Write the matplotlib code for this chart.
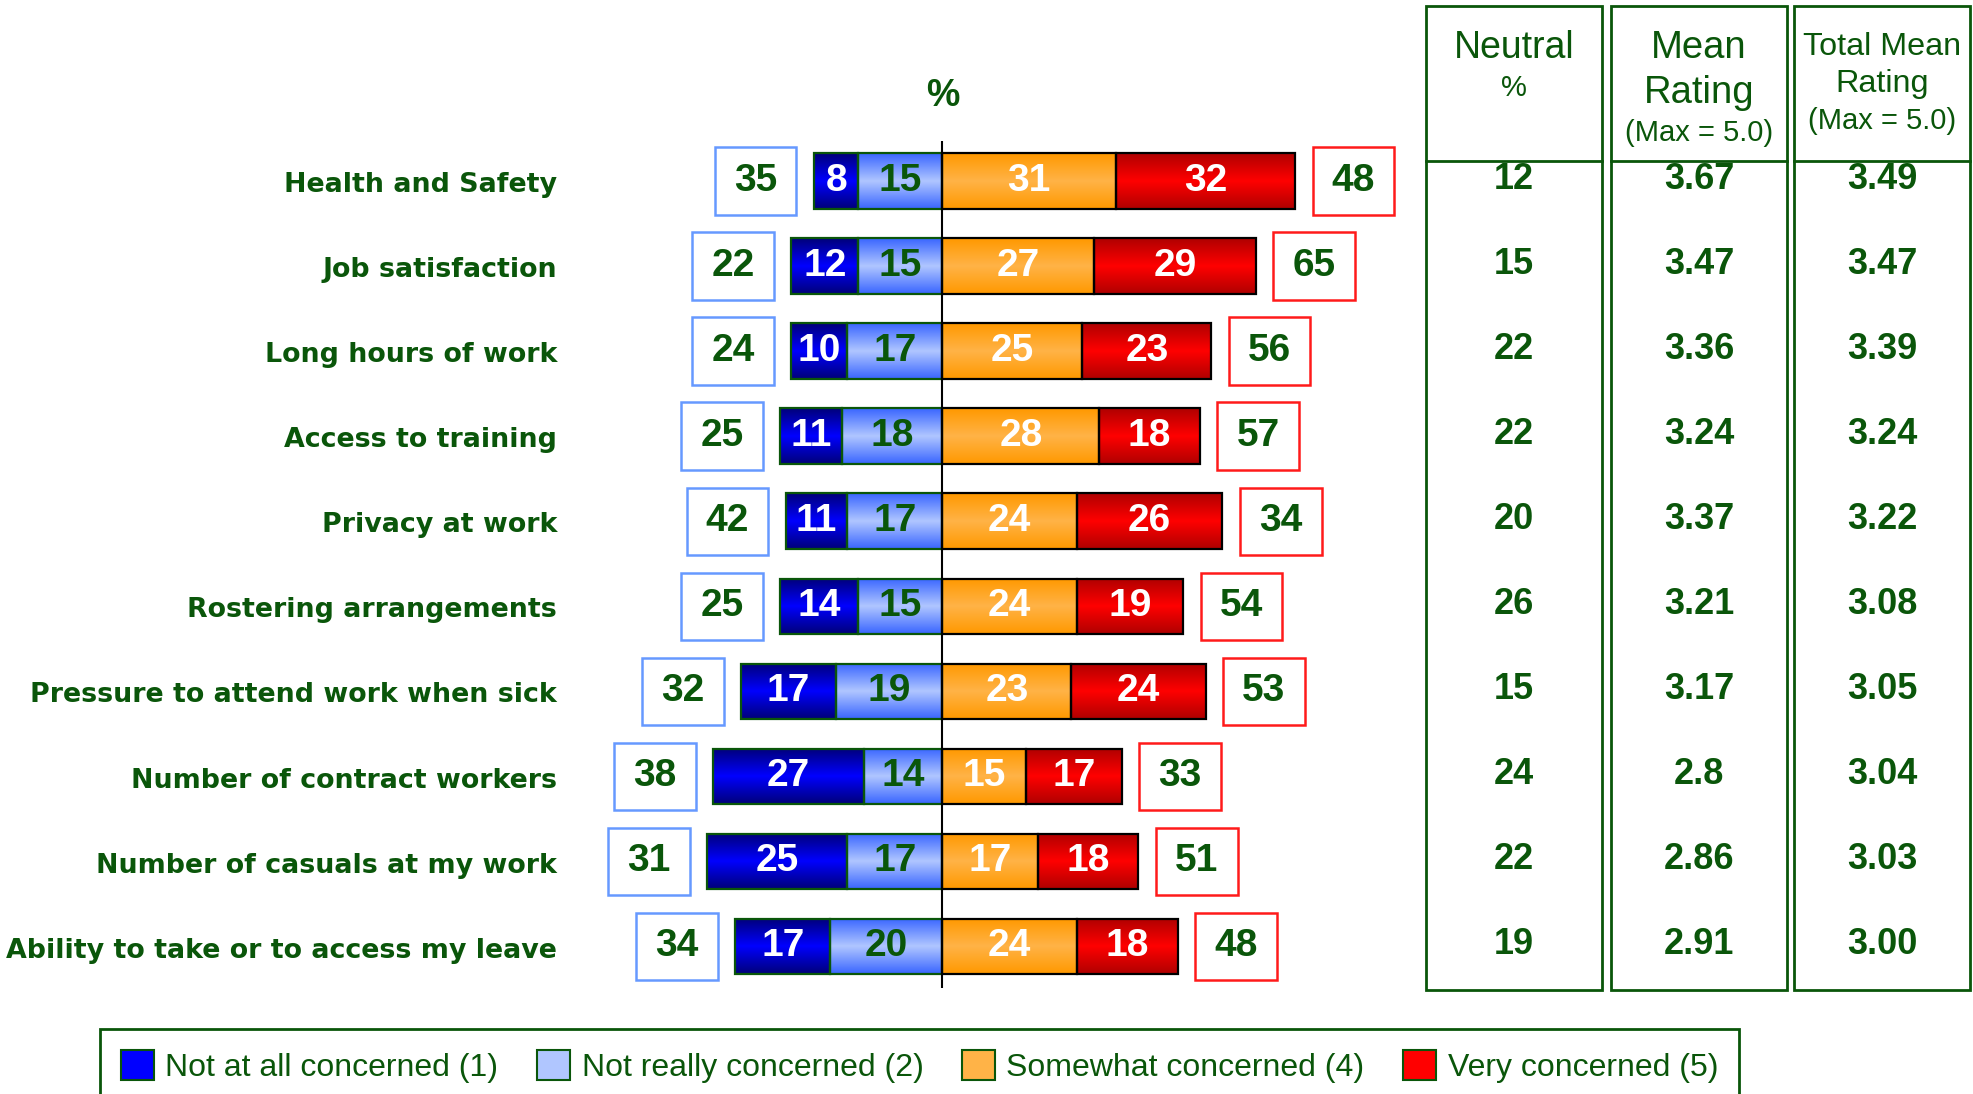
import numpy as np
import matplotlib
matplotlib.use('Agg')
import matplotlib.pyplot as plt
from matplotlib.patches import Rectangle, Patch
from matplotlib import transforms
from matplotlib.colors import to_rgb

categories = ['Health and Safety', 'Job satisfaction', 'Long hours of work',
              'Access to training', 'Privacy at work', 'Rostering arrangements',
              'Pressure to attend work when sick', 'Number of contract workers',
              'Number of casuals at my work', 'Ability to take or to access my leave']
not_at_all = [8, 12, 10, 11, 11, 14, 17, 27, 25, 17]
not_really = [15, 15, 17, 18, 17, 15, 19, 14, 17, 20]
somewhat = [31, 27, 25, 28, 24, 24, 23, 15, 17, 24]
very = [32, 29, 23, 18, 26, 19, 24, 17, 18, 18]
left_box = [35, 22, 24, 25, 42, 25, 32, 38, 31, 34]
right_box = [48, 65, 56, 57, 34, 54, 53, 33, 51, 48]
neutral = ['12', '15', '22', '22', '20', '26', '15', '24', '22', '19']
mean_rating = ['3.67', '3.47', '3.36', '3.24', '3.37', '3.21', '3.17', '2.8', '2.86', '2.91']
total_mean = ['3.49', '3.47', '3.39', '3.24', '3.22', '3.08', '3.05', '3.04', '3.03', '3.00']
legend_labels = ['Not at all concerned (1)', 'Not really concerned (2)',
                 'Somewhat concerned (4)', 'Very concerned (5)']

GREEN = '#0a560a'
# (outer colour, middle colour) of the vertical gradient on each segment
seg_colors = [('#00007a', '#0000ff'), ('#3a66ff', '#b0c6ff'),
              ('#ff9900', '#ffb347'), ('#b00000', '#ff0000')]
seg_text = ['white', GREEN, 'white', 'white']
NARROW = ['Liberation Sans Narrow', 'Liberation Sans']
ARIAL = ['Liberation Sans']

W, H = 1973, 1094
fig = plt.figure(figsize=(W / 100, H / 100), dpi=100)

# bar panel, x in percent, y in rows
ax = fig.add_axes([560 / W, 1 - 988 / H, 840 / W, 847 / H])
XLIM = (-68.3, 81.7)
YLIM = (9.49, -0.47)
ax.set_axis_off()

y = np.arange(len(categories))
a, b = np.array(not_at_all), np.array(not_really)
c, d = np.array(somewhat), np.array(very)
segments = [(-(a + b), a), (-b, b), (np.zeros_like(c), c), (c, d)]
edge_cols = [GREEN, GREEN, 'black', 'black']


def grad_fill(ax, patch, c_out, c_in):
    x0, y0 = patch.get_x(), patch.get_y()
    w, h = patch.get_width(), patch.get_height()
    t = np.abs(np.linspace(-1, 1, 64)) ** 1.0
    img = (1 - t)[:, None] * np.array(to_rgb(c_in)) + t[:, None] * np.array(to_rgb(c_out))
    im = ax.imshow(img[:, None, :], extent=(x0, x0 + w, y0 + h, y0), aspect='auto',
                   interpolation='bilinear', zorder=2)
    im.set_clip_path(patch)


for k, (left, width) in enumerate(segments):
    bars = ax.barh(y, width, left=left, height=0.65, color=seg_colors[k][1], zorder=2)
    for p in bars:
        grad_fill(ax, p, *seg_colors[k])
    ax.barh(y, width, left=left, height=0.65, fill=False, edgecolor=edge_cols[k],
            linewidth=1.6, zorder=3)
    for yi, l, w in zip(y, left, width):
        ax.text(l + w / 2, yi, str(w), ha='center', va='center', color=seg_text[k],
                fontsize=28, fontweight='bold', family=NARROW, zorder=5)

# boxed totals on either side
for yi, lv, rv, lend, rend in zip(y, left_box, right_box, a + b, c + d):
    for cx, val, col in [(-lend - 10.4, lv, '#6699ff'), (rend + 10.4, rv, '#ff1a1a')]:
        ax.add_patch(Rectangle((cx - 7.3, yi - 0.395), 14.6, 0.79, fill=False,
                               edgecolor=col, linewidth=1.8, zorder=3))
        ax.text(cx, yi, str(val), ha='center', va='center', color=GREEN,
                fontsize=28, fontweight='bold', family=NARROW, zorder=5)

ax.axvline(0, color='black', lw=1.5, zorder=4)
ax.text(0, -1.0, '%', ha='center', va='center', color=GREEN, fontsize=27,
        fontweight='bold', family=ARIAL, clip_on=False)
for yi, cat in zip(y, categories):
    ax.text(XLIM[0] - 0.5, yi + 0.05, cat, ha='right', va='center', color=GREEN,
            fontsize=19.4, fontweight='bold', clip_on=False)
ax.set_xlim(*XLIM)
ax.set_ylim(*YLIM)

# table panel on the right, laid out in figure pixels
tab = fig.add_axes([1420 / W, 0, 553 / W, 1])
tab.set_xlim(1420, 1973)
tab.set_ylim(H, 0)
tab.set_axis_off()
cols = [(1426, 176), (1611, 176), (1794, 176)]
for x0, w in cols:
    tab.add_patch(Rectangle((x0, 6), w, 984, fill=False, edgecolor=GREEN, lw=2))
    tab.plot([x0, x0 + w], [161, 161], color=GREEN, lw=2)
centers = [x0 + w / 2 for x0, w in cols]
headers = [[('Neutral', 48, 27), ('%', 88, 21)],
           [('Mean', 48, 27.5), ('Rating', 93, 27.5), ('(Max = 5.0)', 133, 21)],
           [('Total Mean', 47, 23.3), ('Rating', 84, 23.3), ('(Max = 5.0)', 121, 21)]]
for cx, lines in zip(centers, headers):
    for txt, ty, fs in lines:
        tab.text(cx, ty, txt, ha='center', va='center', color=GREEN, fontsize=fs,
                 family=ARIAL)

blend = transforms.blended_transform_factory(tab.transData, ax.transData)
for cx, vals in zip(centers, [neutral, mean_rating, total_mean]):
    for yi, v in zip(y, vals):
        fig.text(cx, yi - 0.02, v, transform=blend, ha='center', va='center',
                 color=GREEN, fontsize=26, fontweight='bold', family=ARIAL)

handles = [Patch(facecolor=mid, edgecolor=GREEN, linewidth=1.5) for _, mid in seg_colors]
leg = fig.legend(handles, legend_labels, loc='upper left',
                 bbox_to_anchor=(100 / W, 1 - 1029 / H), ncol=4, frameon=True,
                 fancybox=False, edgecolor=GREEN, prop={'family': ARIAL, 'size': 23},
                 handlelength=1.05, handleheight=1.1, handletextpad=0.35,
                 columnspacing=1.2, borderpad=0.65, borderaxespad=0, labelcolor=GREEN)
leg.get_frame().set_linewidth(2)
leg.get_frame().set_alpha(None)

fig.savefig('out.png', dpi=100)
